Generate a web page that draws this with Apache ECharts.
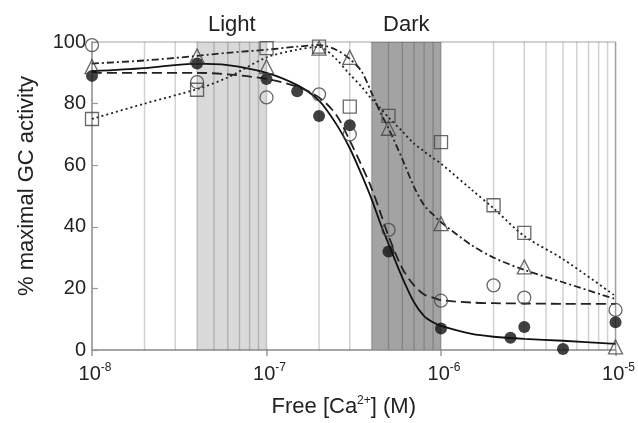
<!DOCTYPE html>
<html><head><meta charset="utf-8">
<script src="https://cdn.jsdelivr.net/npm/echarts@6/dist/echarts.min.js"></script>
<style>html,body{margin:0;padding:0;background:#fff}#c{width:638px;height:423px}</style>
</head><body><div id="c"></div>
<script>
// ---- data ----
const bandNames = ['Light', 'Dark'];
const bandStart = [4e-8, 4e-7];
const bandEnd = [1e-7, 1e-6];
const gridLineX = [2e-8,3e-8,4e-8,5e-8,6e-8,7e-8,8e-8,9e-8,1e-7,
  2e-7,3e-7,4e-7,5e-7,6e-7,7e-7,8e-7,9e-7,1e-6,
  2e-6,3e-6,4e-6,5e-6,6e-6,7e-6,8e-6,9e-6,1e-5];

// measured points
const filledX = [1e-8, 4e-8, 1e-7, 1.5e-7, 2e-7, 3e-7, 5e-7, 1e-6, 2.5e-6, 3e-6, 5e-6, 1e-5];
const filledY = [89, 93, 88, 84, 76, 73, 32, 7, 4, 7.5, 0.3, 9];
const openX = [1e-8, 4e-8, 1e-7, 2e-7, 3e-7, 5e-7, 1e-6, 2e-6, 3e-6, 1e-5];
const openY = [99, 87, 82, 83, 70, 39, 16, 21, 17, 13];
const triX = [1e-8, 4e-8, 1e-7, 2e-7, 3e-7, 5e-7, 1e-6, 3e-6, 1e-5];
const triY = [92, 95.5, 92, 98, 95, 72, 41, 27, 1];
const sqX = [1e-8, 4e-8, 1e-7, 2e-7, 3e-7, 5e-7, 1e-6, 2e-6, 3e-6];
const sqY = [75, 84.5, 98, 98.5, 79, 76, 67.5, 47, 38];

// fitted curves at these x positions
const curveX = [1e-8,2e-8,4e-8,6e-8,1e-7,1.5e-7,2e-7,2.5e-7,3e-7,3.5e-7,4e-7,4.5e-7,5e-7,6e-7,7e-7,8e-7,9e-7,1e-6,1.5e-6,2e-6,3e-6,5e-6,1e-5];
const fitFilledY = [90.5,91.5,93,92.5,90,86,81,73.5,65.5,57,49,41,34.5,23.5,15.5,11,9,7.8,5.2,4.3,3.6,3,2];
const fitOpenY   = [90,90,90,89.5,88,85.5,82,76.5,68,60,52.5,44.5,37,26.5,21,18,17,16.2,15.4,15.2,15.1,15,15];
const fitTriY    = [93,94,95.5,96.5,97.5,98.5,99,97.5,94.5,90.5,83.5,77,72,62,53,47,44,41.5,34,30,26,22,16.5];
const fitSqY     = [75,80,84.7,88.5,95,97.5,98.4,94.5,89.5,85.5,81.5,78.5,75.5,71,67,64.5,62.3,60.5,52,46,37,29.5,17.5];

// ---- chart ----
const FONT = '"Liberation Sans", Arial, sans-serif';
const TXT = '#222';
const pairs = (xs, ys) => xs.map((x, i) => [x, ys[i]]);
const hollow = { color: 'rgba(0,0,0,0)', borderColor: '#444', borderWidth: 1.3 };

const chart = echarts.init(document.getElementById('c'));
const lineBase = { type: 'line', smooth: 0.3, symbol: 'none', showSymbol: false, z: 2, silent: true, emphasis: { disabled: true } };
const scatBase = { type: 'scatter', z: 3, clip: false, silent: true, emphasis: { disabled: true } };

// vertical grid lines drawn as broken line segments spanning the y range
const gridData = [];
gridLineX.forEach(x => { gridData.push([x, 0], [x, 100], [x, '-']); });

chart.setOption({
  animation: false,
  grid: { left: 92, right: 18, top: 42, bottom: 73, show: true, borderColor: '#c4c4c4', borderWidth: 1.5, backgroundColor: 'transparent' },
  xAxis: {
    type: 'log', logBase: 10, min: 1e-8, max: 1e-5,
    name: '{n|Free [Ca}{s|2+}{n|] (M)}', nameLocation: 'middle', nameGap: 45,
    nameTextStyle: { padding: [0, 20, 0, 0], rich: {
      n: { fontFamily: FONT, fontSize: 22, color: TXT, verticalAlign: 'bottom' },
      s: { fontFamily: FONT, fontSize: 12, color: TXT, verticalAlign: 'bottom', padding: [0, 0, 11, 0] } } },
    axisLine: { lineStyle: { color: '#999', width: 1.5 } },
    axisTick: { show: true, length: 6, lineStyle: { color: '#999', width: 1.5 } },
    minorTick: { show: false }, splitLine: { show: false },
    axisLabel: { margin: 12,
      formatter: v => '{b|10}{s|' + Math.round(Math.log10(v)) + '}',
      rich: {
        b: { fontFamily: FONT, fontSize: 20, color: TXT, verticalAlign: 'bottom', padding: [0, 0, 0, 6] },
        s: { fontFamily: FONT, fontSize: 12, color: TXT, verticalAlign: 'bottom', padding: [0, 0, 10, 0] } } }
  },
  yAxis: {
    type: 'value', min: 0, max: 100, interval: 20,
    name: '% maximal GC activity', nameLocation: 'middle', nameGap: 54,
    nameTextStyle: { fontFamily: FONT, fontSize: 22, color: TXT, padding: [0, 0, 0, 20] },
    axisLine: { show: true, lineStyle: { color: '#999', width: 1.5 } },
    axisTick: { show: true, inside: true, length: 6, lineStyle: { color: '#999', width: 1.2 } },
    splitLine: { show: false },
    axisLabel: { fontFamily: FONT, fontSize: 20, color: TXT, margin: 6 }
  },
  series: [
    {
      type: 'line', data: gridData, symbol: 'none', showSymbol: false, z: 1, silent: true,
      connectNulls: false, emphasis: { disabled: true },
      lineStyle: { color: 'rgba(0,0,0,0.18)', width: 1.5 },
      markArea: {
        silent: true, z: 0,
        label: { show: true, position: 'top', distance: 6, fontFamily: FONT, fontSize: 22, color: TXT },
        data: bandNames.map((n, i) => [
          { name: n, xAxis: bandStart[i], itemStyle: { color: i === 0 ? 'rgba(0,0,0,0.15)' : 'rgba(0,0,0,0.36)' } },
          { xAxis: bandEnd[i] }])
      }
    },
    Object.assign({}, lineBase, { data: pairs(curveX, fitFilledY), lineStyle: { color: '#111', width: 1.8, type: 'solid' } }),
    Object.assign({}, lineBase, { data: pairs(curveX, fitOpenY), lineStyle: { color: '#222', width: 1.8, type: [10, 5] } }),
    Object.assign({}, lineBase, { data: pairs(curveX, fitTriY), lineStyle: { color: '#222', width: 1.8, type: [7, 3, 2, 3] } }),
    Object.assign({}, lineBase, { data: pairs(curveX, fitSqY), lineStyle: { color: '#222', width: 1.8, type: [2, 3] } }),
    Object.assign({}, scatBase, { data: pairs(filledX, filledY), symbol: 'circle', symbolSize: 12, itemStyle: { color: '#111' } }),
    Object.assign({}, scatBase, { data: pairs(openX, openY), symbol: 'circle', symbolSize: 13, itemStyle: hollow }),
    Object.assign({}, scatBase, { data: pairs(triX, triY), symbol: 'triangle', symbolSize: 14, itemStyle: hollow }),
    Object.assign({}, scatBase, { data: pairs(sqX, sqY), symbol: 'rect', symbolSize: 13, itemStyle: hollow })
  ]
});
</script>
</body></html>
